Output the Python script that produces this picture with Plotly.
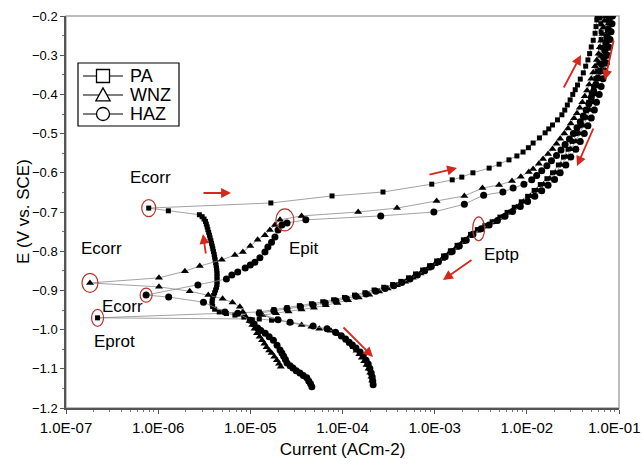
import math
import plotly.graph_objects as go

# ---------------- data (current in A/cm2, potential in V vs SCE) ----------------
PA_CATHODIC = [(1.05e-5,-0.975),(8.5e-6,-0.968),(6.8e-6,-0.963),(5.5e-6,-0.959),(4.6e-6,-0.955),
    (4.1e-6,-0.948),(3.9e-6,-0.941),(3.85e-6,-0.934),(3.85e-6,-0.927),(3.9e-6,-0.920),(4.0e-6,-0.913),
    (4.1e-6,-0.906),(4.2e-6,-0.899),(4.3e-6,-0.892),(4.35e-6,-0.885),(4.35e-6,-0.878),(4.35e-6,-0.871),
    (4.35e-6,-0.864),(4.35e-6,-0.857),(4.33e-6,-0.850),(4.3e-6,-0.843),(4.25e-6,-0.836),(4.2e-6,-0.829),
    (4.15e-6,-0.822),(4.1e-6,-0.815),(4.05e-6,-0.808),(3.98e-6,-0.801),(3.92e-6,-0.794),(3.86e-6,-0.787),
    (3.8e-6,-0.780),(3.73e-6,-0.773),(3.66e-6,-0.766),(3.6e-6,-0.759),(3.53e-6,-0.752),(3.46e-6,-0.745),
    (3.4e-6,-0.738),(3.33e-6,-0.731),(3.26e-6,-0.724),(3.15e-6,-0.718),(3.0e-6,-0.712),(2.8e-6,-0.707),
    (1.29e-6,-0.697),(7.9e-7,-0.690)]
PA_ANODIC = [(1.67e-5,-0.677),(7.7e-5,-0.659),(2.75e-4,-0.649),(9.3e-4,-0.629),(1.55e-3,-0.618),
    (1.97e-3,-0.611),(2.6e-3,-0.600),(3.9e-3,-0.588),(5.0e-3,-0.578),(6.4e-3,-0.567),(7.8e-3,-0.557),
    (9.1e-3,-0.547),(0.0104,-0.536),(0.0117,-0.524),(0.0137,-0.511),(0.0158,-0.498),(0.0173,-0.488),
    (0.019,-0.478),(0.0215,-0.465),(0.024,-0.452),(0.0258,-0.440),(0.0275,-0.427),(0.0295,-0.414),
    (0.0315,-0.400),(0.0335,-0.388),(0.0355,-0.376),(0.038,-0.361),(0.041,-0.345),(0.0435,-0.328),
    (0.046,-0.312),(0.048,-0.296),(0.050,-0.279),(0.0525,-0.262),(0.055,-0.244),(0.0563,-0.227),
    (0.0575,-0.210),(0.058,-0.202)]
PA_REVERSE = [(0.062,-0.205),(0.0635,-0.220),(0.064,-0.240),(0.064,-0.260),(0.063,-0.280),(0.062,-0.300),
    (0.060,-0.320),(0.058,-0.340),(0.056,-0.360),(0.053,-0.380),(0.050,-0.400),(0.047,-0.420),(0.044,-0.440),
    (0.041,-0.460),(0.038,-0.480),(0.035,-0.500),(0.031,-0.520),(0.028,-0.540),(0.025,-0.560),(0.022,-0.580),
    (0.019,-0.600),(0.0165,-0.615),(0.014,-0.630),(0.012,-0.645),(0.0102,-0.660),(8.7e-3,-0.674),
    (7.3e-3,-0.688),(6.1e-3,-0.701),(5.1e-3,-0.713),(4.2e-3,-0.725),(3.5e-3,-0.735),(2.9e-3,-0.745),
    (2.45e-3,-0.757),(2.05e-3,-0.771),(1.75e-3,-0.785),(1.48e-3,-0.799),(1.25e-3,-0.812),(1.05e-3,-0.825),
    (8.8e-4,-0.837),(7.4e-4,-0.848),(6.2e-4,-0.858),(5.2e-4,-0.868),(4.3e-4,-0.877),(3.5e-4,-0.885),
    (2.8e-4,-0.892),(2.2e-4,-0.899),(1.75e-4,-0.906),(1.35e-4,-0.912),(1.05e-4,-0.918),(8.0e-5,-0.924),
    (6.1e-5,-0.929),(4.6e-5,-0.934),(3.4e-5,-0.939),(2.5e-5,-0.944),(1.8e-5,-0.949),(1.25e-5,-0.955),
    (2.2e-7,-0.970),(1.25e-5,-0.973),(1.7e-5,-0.976)]

WNZ_CATHODIC = [(2.14e-5,-1.095),(2.05e-5,-1.087),(1.94e-5,-1.078),(1.82e-5,-1.069),(1.7e-5,-1.060),
    (1.6e-5,-1.053),(1.5e-5,-1.045),(1.42e-5,-1.036),(1.34e-5,-1.027),(1.26e-5,-1.018),(1.18e-5,-1.009),
    (1.11e-5,-0.998),(1.05e-5,-0.988),(9.8e-6,-0.978),(9.0e-6,-0.968),(8.3e-6,-0.955),(7.7e-6,-0.942),
    (6.4e-6,-0.931),(5.0e-6,-0.921),(3.5e-6,-0.912),(2.2e-6,-0.902),(1.02e-6,-0.891),(1.82e-7,-0.881)]
WNZ_ANODIC = [(1.02e-6,-0.868),(1.95e-6,-0.851),(2.83e-6,-0.838),(4.9e-6,-0.822),(6.8e-6,-0.810),
    (8.3e-6,-0.802),(1.0e-5,-0.787),(1.2e-5,-0.771),(1.44e-5,-0.759),(1.63e-5,-0.746),(1.85e-5,-0.733),
    (2.1e-5,-0.720),(3.6e-5,-0.710),(1.48e-4,-0.700),(3.9e-4,-0.690),(1.05e-3,-0.672),(2.1e-3,-0.659),
    (3.3e-3,-0.639),(5.0e-3,-0.631),(6.9e-3,-0.621),(8.6e-3,-0.610),(0.0105,-0.598),(0.0117,-0.590),
    (0.0135,-0.577),(0.015,-0.565),(0.017,-0.552),(0.019,-0.539),(0.021,-0.526),(0.023,-0.513),
    (0.0255,-0.500),(0.028,-0.487),(0.030,-0.474),(0.0325,-0.461),(0.035,-0.448),(0.0375,-0.434),
    (0.040,-0.420),(0.0425,-0.405),(0.045,-0.390),(0.0475,-0.375),(0.050,-0.360),(0.0525,-0.344),
    (0.055,-0.328),(0.0575,-0.312),(0.060,-0.296),(0.062,-0.280),(0.064,-0.263),(0.066,-0.246),
    (0.068,-0.229),(0.0695,-0.212),(0.070,-0.202)]
WNZ_REVERSE = [(0.078,-0.205),(0.077,-0.220),(0.075,-0.240),(0.073,-0.260),(0.071,-0.280),(0.069,-0.300),
    (0.066,-0.320),(0.064,-0.340),(0.061,-0.360),(0.058,-0.380),(0.055,-0.400),(0.052,-0.420),(0.048,-0.440),
    (0.045,-0.460),(0.041,-0.480),(0.037,-0.500),(0.034,-0.520),(0.030,-0.540),(0.027,-0.560),(0.0235,-0.580),
    (0.0205,-0.600),(0.0178,-0.615),(0.0152,-0.630),(0.013,-0.645),(0.011,-0.660),(9.2e-3,-0.674),
    (7.7e-3,-0.688),(6.4e-3,-0.701),(5.3e-3,-0.714),(4.3e-3,-0.726),(3.5e-3,-0.737),(2.9e-3,-0.748),
    (2.4e-3,-0.762),(2.0e-3,-0.777),(1.7e-3,-0.792),(1.42e-3,-0.806),(1.2e-3,-0.820),(1.0e-3,-0.833),
    (8.4e-4,-0.845),(7.0e-4,-0.857),(5.8e-4,-0.868),(4.8e-4,-0.878),(3.9e-4,-0.887),(3.1e-4,-0.895),
    (2.5e-4,-0.903),(1.95e-4,-0.911),(1.5e-4,-0.918),(1.15e-4,-0.925),(8.8e-5,-0.932),(6.6e-5,-0.938),
    (4.9e-5,-0.944),(3.6e-5,-0.949),(2.6e-5,-0.954),(1.9e-5,-0.958),(1.35e-5,-0.963),(1.9e-5,-0.975),
    (2.7e-5,-0.982),(3.6e-5,-0.988),(4.6e-5,-0.993),(5.6e-5,-0.998),(7.5e-5,-1.003),(9.0e-5,-1.012),
    (1.02e-4,-1.020),(1.12e-4,-1.028),(1.22e-4,-1.036),(1.32e-4,-1.045),(1.42e-4,-1.054),(1.52e-4,-1.063),
    (1.62e-4,-1.072),(1.72e-4,-1.081),(1.82e-4,-1.090),(1.92e-4,-1.100),(2.0e-4,-1.110),(2.06e-4,-1.120),
    (2.1e-4,-1.130)]

HAZ_CATHODIC = [(4.65e-5,-1.146),(4.5e-5,-1.138),(4.3e-5,-1.131),(4.1e-5,-1.123),(3.75e-5,-1.117),
    (3.45e-5,-1.111),(3.15e-5,-1.105),(2.9e-5,-1.098),(2.7e-5,-1.092),(2.5e-5,-1.085),(2.4e-5,-1.076),
    (2.3e-5,-1.068),(2.2e-5,-1.060),(2.1e-5,-1.052),(1.95e-5,-1.040),(1.78e-5,-1.027),(1.6e-5,-1.018),
    (1.45e-5,-1.009),(1.3e-5,-1.002),(1.2e-5,-0.996),(1.1e-5,-0.986),(1.0e-5,-0.976),(7.3e-6,-0.958),
    (5.3e-6,-0.955),(3.1e-6,-0.930),(1.3e-6,-0.917),(7.4e-7,-0.912)]
HAZ_ANODIC = [(2.7e-6,-0.886),(5.5e-6,-0.871),(6.3e-6,-0.861),(7.3e-6,-0.853),(8.8e-6,-0.843),
    (1.0e-5,-0.835),(1.12e-5,-0.828),(1.27e-5,-0.817),(1.44e-5,-0.802),(1.55e-5,-0.789),(1.7e-5,-0.777),
    (1.85e-5,-0.764),(2.0e-5,-0.746),(2.2e-5,-0.733),(2.5e-5,-0.728),(4.0e-5,-0.720),(2.6e-4,-0.710),
    (9.8e-4,-0.700),(2.1e-3,-0.680),(3.4e-3,-0.657),(5.5e-3,-0.649),(7.1e-3,-0.639),(9.3e-3,-0.629),
    (0.0113,-0.618),(0.0128,-0.607),(0.0145,-0.595),(0.0165,-0.582),(0.0185,-0.569),(0.021,-0.556),
    (0.0235,-0.542),(0.026,-0.528),(0.029,-0.514),(0.032,-0.500),(0.035,-0.485),(0.038,-0.470),
    (0.041,-0.455),(0.044,-0.440),(0.047,-0.424),(0.050,-0.408),(0.053,-0.392),(0.056,-0.375),
    (0.059,-0.358),(0.062,-0.341),(0.065,-0.324),(0.068,-0.306),(0.070,-0.288),(0.072,-0.270),
    (0.074,-0.252),(0.076,-0.234),(0.078,-0.216),(0.079,-0.203)]
HAZ_REVERSE = [(0.085,-0.200),(0.084,-0.220),(0.082,-0.240),(0.080,-0.260),(0.078,-0.280),(0.075,-0.300),
    (0.073,-0.320),(0.070,-0.340),(0.067,-0.360),(0.064,-0.380),(0.061,-0.400),(0.057,-0.420),(0.054,-0.440),
    (0.050,-0.460),(0.046,-0.480),(0.042,-0.500),(0.038,-0.520),(0.034,-0.540),(0.030,-0.560),(0.0265,-0.580),
    (0.023,-0.600),(0.020,-0.617),(0.017,-0.632),(0.0145,-0.646),(0.0122,-0.660),(0.0102,-0.673),
    (8.5e-3,-0.686),(7.0e-3,-0.699),(5.8e-3,-0.711),(4.8e-3,-0.722),(3.9e-3,-0.733),(3.2e-3,-0.743),
    (2.6e-3,-0.757),(2.2e-3,-0.772),(1.85e-3,-0.787),(1.55e-3,-0.801),(1.3e-3,-0.814),(1.1e-3,-0.827),
    (9.2e-4,-0.839),(7.8e-4,-0.850),(6.5e-4,-0.861),(5.4e-4,-0.871),(4.4e-4,-0.880),(3.6e-4,-0.888),
    (2.9e-4,-0.895),(2.3e-4,-0.902),(1.8e-4,-0.909),(1.4e-4,-0.915),(1.1e-4,-0.921),(8.5e-5,-0.927),
    (6.5e-5,-0.932),(4.8e-5,-0.937),(3.5e-5,-0.942),(2.5e-5,-0.947),(1.8e-5,-0.952),(1.25e-5,-0.958),
    (2.0e-5,-0.975),(2.7e-5,-0.981),(4.8e-5,-0.991),(6.8e-5,-0.998),(8.4e-5,-1.007),(9.7e-5,-1.016),
    (1.08e-4,-1.024),(1.18e-4,-1.032),(1.28e-4,-1.039),(1.4e-4,-1.047),(1.55e-4,-1.057),(1.68e-4,-1.067),
    (1.8e-4,-1.078),(1.9e-4,-1.088),(1.98e-4,-1.099),(2.05e-4,-1.111),(2.1e-4,-1.121),(2.13e-4,-1.131),
    (2.15e-4,-1.141)]

SERIES_NAMES = ["PA", "WNZ", "HAZ"]
X_TICKS = [1e-7, 1e-6, 1e-5, 1e-4, 1e-3, 1e-2, 1e-1]
X_TICK_TEXT = ["1.0E-07", "1.0E-06", "1.0E-05", "1.0E-04", "1.0E-03", "1.0E-02", "1.0E-01"]
Y_TICKS = [-1.2, -1.1, -1.0, -0.9, -0.8, -0.7, -0.6, -0.5, -0.4, -0.3, -0.2]
X_TITLE = "Current (ACm-2)"
Y_TITLE = "E (V vs. SCE)"

# marked potentials: (label, current, potential)
MARKED = [("Ecorr PA", 7.9e-7, -0.690), ("Ecorr WNZ", 1.82e-7, -0.881), ("Ecorr HAZ", 7.4e-7, -0.912),
          ("Eprot", 2.2e-7, -0.970), ("Epit", 2.37e-5, -0.720), ("Eptp", 3.0e-3, -0.743)]

# ---------------- figure ----------------
FONT = "Liberation Sans, Arial, Helvetica, sans-serif"
W, H = 644, 466
ML, MR, MT, MB = 66, 25, 16, 58
PW, PH = W - ML - MR, H - MT - MB

fig = go.Figure()

styles = {"PA": ("square", 5), "WNZ": ("triangle-up", 7), "HAZ": ("circle", 7)}
data = {"PA": PA_CATHODIC + PA_ANODIC + PA_REVERSE,
        "WNZ": WNZ_CATHODIC + WNZ_ANODIC + WNZ_REVERSE,
        "HAZ": HAZ_CATHODIC + HAZ_ANODIC + HAZ_REVERSE}

for name in SERIES_NAMES:
    pts = data[name]
    sym, sz = styles[name]
    fig.add_trace(go.Scatter(
        x=[p[0] for p in pts], y=[p[1] for p in pts], mode="lines+markers",
        line=dict(color="#8a8a8a", width=0.8),
        marker=dict(symbol=sym, size=sz, color="black", line=dict(width=0)),
        showlegend=False, name=name, hoverinfo="skip"))

def px_to_paper(px, py):
    return (px - ML) / PW, (MT + PH - py) / PH

def data_to_paper(i, e):
    return (math.log10(i) + 7) / 6.0, (e + 1.2) / 1.0

shapes = []
annotations = []

ell_sizes = {"Ecorr PA": (14, 17), "Ecorr WNZ": (16, 19), "Ecorr HAZ": (12, 14),
             "Eprot": (12, 17), "Epit": (18, 22), "Eptp": (12, 24)}
for lab, i, e in MARKED:
    cx, cy = data_to_paper(i, e)
    w, h = ell_sizes[lab]
    shapes.append(dict(type="circle", xref="paper", yref="paper",
                       x0=cx - w / 2 / PW, x1=cx + w / 2 / PW,
                       y0=cy - h / 2 / PH, y1=cy + h / 2 / PH,
                       line=dict(color="#b8352b", width=1.2)))
# plot frame (top/right lighter)
shapes.append(dict(type="rect", xref="paper", yref="paper", x0=0, x1=1, y0=0, y1=1,
                   line=dict(color="#a8a8a8", width=1.5), layer="below"))

# ---- legend box (drawn as in the original: open symbols on a line) ----
LEG_BOX = (78, 63, 179, 126)
x0, y0 = px_to_paper(LEG_BOX[0], LEG_BOX[1])
x1, y1 = px_to_paper(LEG_BOX[2], LEG_BOX[3])
shapes.append(dict(type="rect", xref="paper", yref="paper", x0=x0, x1=x1, y0=y1, y1=y0,
                   line=dict(color="black", width=1.2), fillcolor="white", layer="above"))
leg_rows = [76, 95, 114]
for name, ry in zip(SERIES_NAMES, leg_rows):
    lx0, ly = px_to_paper(83, ry)
    lx1, _ = px_to_paper(123, ry)
    shapes.append(dict(type="line", xref="paper", yref="paper", x0=lx0, x1=lx1, y0=ly, y1=ly,
                       line=dict(color="black", width=1.2), layer="above"))
    cx, cy = px_to_paper(103, ry)
    hw, hh = 6.5 / PW, 6.5 / PH
    sym = styles[name][0]
    if sym == "square":
        shapes.append(dict(type="rect", xref="paper", yref="paper", x0=cx - hw, x1=cx + hw,
                           y0=cy - hh, y1=cy + hh, line=dict(color="black", width=1.3),
                           fillcolor="white", layer="above"))
    elif sym == "circle":
        shapes.append(dict(type="circle", xref="paper", yref="paper", x0=cx - hw, x1=cx + hw,
                           y0=cy - hh, y1=cy + hh, line=dict(color="black", width=1.3),
                           fillcolor="white", layer="above"))
    else:
        path = "M {:.5f},{:.5f} L {:.5f},{:.5f} L {:.5f},{:.5f} Z".format(
            cx - 1.1 * hw, cy - 0.9 * hh, cx + 1.1 * hw, cy - 0.9 * hh, cx, cy + 1.1 * hh)
        shapes.append(dict(type="path", xref="paper", yref="paper", path=path,
                           line=dict(color="black", width=1.3), fillcolor="white", layer="above"))
    tx, ty = px_to_paper(128, ry)
    annotations.append(dict(text=name, x=tx, y=ty, xref="paper", yref="paper", showarrow=False,
                            font=dict(family=FONT, size=18, color="black"),
                            xanchor="left", yanchor="middle"))

labels = [("Ecorr", 150, 178), ("Ecorr", 101, 248), ("Ecorr", 122, 306), ("Eprot", 114, 341),
          ("Epit", 304, 248), ("Eptp", 501, 254)]
for t, px, py in labels:
    x, y = px_to_paper(px, py)
    annotations.append(dict(text=t, x=x, y=y, xref="paper", yref="paper", showarrow=False,
                            font=dict(family=FONT, size=17, color="black"),
                            xanchor="center", yanchor="middle"))

# y-axis title placed as rotated text
tx, ty = px_to_paper(23, 212)
annotations.append(dict(text=Y_TITLE, x=tx, y=ty, xref="paper", yref="paper", showarrow=False,
                        textangle=-90, font=dict(family=FONT, size=17, color="black"),
                        xanchor="center", yanchor="middle"))

# last x tick label sits at the right edge of the page (plotly drops it when it overflows)
lx, ly = px_to_paper(643, 427)
annotations.append(dict(text=X_TICK_TEXT[-1], x=lx, y=ly, xref="paper", yref="paper",
                        showarrow=False, font=dict(family=FONT, size=15, color="black"),
                        xanchor="right", yanchor="middle"))

arrows = [((202, 193), (231, 193)), ((206, 255), (203, 234)), ((428, 175), (457, 168)),
          ((563, 89), (581, 55)), ((614, 39), (605, 80)), ((594, 127), (577, 166)),
          ((473, 259), (443, 280)), ((342, 326), (373, 357))]
for (tx, ty), (hx, hy) in arrows:
    x, y = px_to_paper(hx, hy)
    annotations.append(dict(text="", x=x, y=y, xref="paper", yref="paper", showarrow=True,
                            ax=tx - hx, ay=ty - hy, axref="pixel", ayref="pixel",
                            arrowcolor="#d7261b", arrowwidth=1.8, arrowhead=2, arrowsize=1.1,
                            standoff=0, startstandoff=0))

minor_x = [m * 10.0 ** k for k in range(-7, -1) for m in range(2, 10)]

fig.update_layout(
    width=W, height=H,
    margin=dict(l=ML, r=MR, t=MT, b=MB, pad=0),
    paper_bgcolor="white", plot_bgcolor="white",
    font=dict(family=FONT, size=15, color="black"),
    shapes=shapes, annotations=annotations,
    showlegend=False, hovermode=False,
    xaxis=dict(type="log", range=[-7, -1], tickvals=X_TICKS, ticktext=X_TICK_TEXT,
               automargin=False,
               showgrid=False, zeroline=False, showline=True, linecolor="#555", linewidth=1.5,
               ticks="outside", ticklen=4, tickcolor="#555", tickwidth=1,
               tickfont=dict(family=FONT, size=15), ticklabelstandoff=1,
               minor=dict(tickvals=minor_x, ticks="outside", ticklen=2, tickcolor="#777"),
               title=dict(text=X_TITLE, font=dict(family=FONT, size=17), standoff=8)),
    yaxis=dict(range=[-1.2, -0.2], tickvals=Y_TICKS, tickformat=".1f",
               automargin=False,
               showgrid=False, zeroline=False, showline=True, linecolor="#555", linewidth=1.5,
               ticks="outside", ticklen=4, tickcolor="#555", tickwidth=1,
               tickfont=dict(family=FONT, size=13), ticklabelstandoff=0,
               minor=dict(dtick=0.05, ticks="outside", ticklen=2, tickcolor="#777")),
)

fig.write_html("out.html", config={"displayModeBar": False},
               post_script="document.body.style.margin='0px';")
